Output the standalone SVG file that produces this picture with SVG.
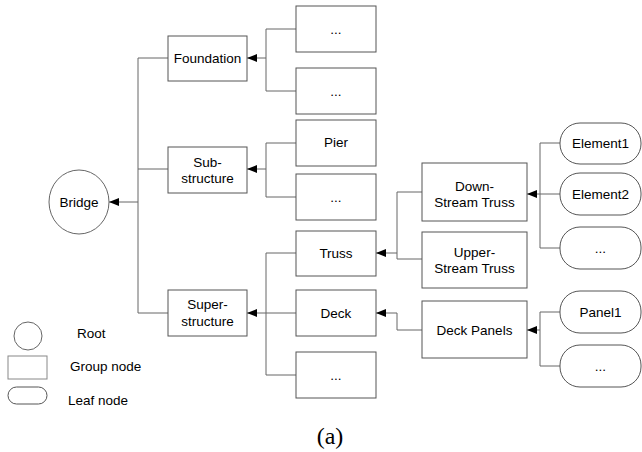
<svg xmlns="http://www.w3.org/2000/svg" width="642" height="452" viewBox="0 0 642 452">
<defs>
<marker id="arr" markerWidth="10" markerHeight="8" refX="10" refY="4" orient="auto" markerUnits="userSpaceOnUse">
<path d="M0,0 L10,4 L0,8 z" fill="#000"/>
</marker>
<style>
.box{fill:#fff;stroke:#555;stroke-width:1}
.leaf{fill:#fff;stroke:#555;stroke-width:1}
.root{fill:#fff;stroke:#666;stroke-width:1}
.ln{fill:none;stroke:#666;stroke-width:1}
.t{font-family:"Liberation Sans",Arial,sans-serif;font-size:13.5px;fill:#000;text-anchor:middle}
.lg{font-family:"Liberation Sans",Arial,sans-serif;font-size:13.5px;fill:#000}
.cap{font-family:"Liberation Serif","Times New Roman",serif;font-size:24px;fill:#000;text-anchor:middle}
</style>
</defs>
<rect width="642" height="452" fill="#fff"/>

<g id="connectors">
<path class="ln" d="M138,58 V313 M138,58 H168 M138,169 H168 M138,313 H168"/>
<line class="ln" x1="138" y1="202" x2="109" y2="202" marker-end="url(#arr)"/>
<path class="ln" d="M266,29 V91 M266,29 H296 M266,91 H296"/>
<line class="ln" x1="266" y1="58" x2="247" y2="58" marker-end="url(#arr)"/>
<path class="ln" d="M266,143 V197 M266,143 H296 M266,197 H296"/>
<line class="ln" x1="266" y1="169" x2="247" y2="169" marker-end="url(#arr)"/>
<path class="ln" d="M266,253 V375 M266,253 H296 M266,375 H296"/>
<line class="ln" x1="296" y1="313" x2="247" y2="313" marker-end="url(#arr)"/>
<path class="ln" d="M397,192 V259 M397,192 H422 M397,259 H422"/>
<line class="ln" x1="397" y1="253" x2="376" y2="253" marker-end="url(#arr)"/>
<polyline class="ln" points="422,330 397,330 397,313 376,313" marker-end="url(#arr)"/>
<path class="ln" d="M540,143 V248 M540,143 H560 M540,248 H560"/>
<line class="ln" x1="560" y1="194" x2="527" y2="194" marker-end="url(#arr)"/>
<path class="ln" d="M540,312 V366 M540,312 H560 M540,366 H560"/>
<line class="ln" x1="540" y1="330" x2="527" y2="330" marker-end="url(#arr)"/>
</g>

<g id="bridge"><ellipse class="root" cx="79" cy="202" rx="30" ry="32"/><text class="t" x="79" y="207">Bridge</text></g>

<g id="foundation"><rect class="box" x="168" y="36" width="79" height="45"/><text class="t" x="207.5" y="63">Foundation</text></g>
<g id="substructure"><rect class="box" x="168" y="147" width="79" height="46"/><text class="t" x="207.5" y="167">Sub-</text><text class="t" x="207.5" y="183">structure</text></g>
<g id="superstructure"><rect class="box" x="168" y="290" width="79" height="46"/><text class="t" x="207.5" y="309">Super-</text><text class="t" x="207.5" y="326">structure</text></g>

<g id="f1"><rect class="box" x="296" y="6" width="80" height="46"/><text class="t" x="336" y="34">...</text></g>
<g id="f2"><rect class="box" x="296" y="68" width="80" height="46"/><text class="t" x="336" y="96">...</text></g>
<g id="pier"><rect class="box" x="296" y="120" width="80" height="46"/><text class="t" x="336" y="147">Pier</text></g>
<g id="s2"><rect class="box" x="296" y="174" width="80" height="46"/><text class="t" x="336" y="202">...</text></g>
<g id="truss"><rect class="box" x="296" y="231" width="80" height="45"/><text class="t" x="336" y="258">Truss</text></g>
<g id="deck"><rect class="box" x="296" y="290" width="80" height="46"/><text class="t" x="336" y="318">Deck</text></g>
<g id="p3"><rect class="box" x="296" y="352" width="80" height="46"/><text class="t" x="336" y="380">...</text></g>

<g id="downstream"><rect class="box" x="422" y="163" width="105" height="58"/><text class="t" x="474.5" y="191">Down-</text><text class="t" x="474.5" y="207">Stream Truss</text></g>
<g id="upperstream"><rect class="box" x="422" y="232" width="105" height="56"/><text class="t" x="474.5" y="257">Upper-</text><text class="t" x="474.5" y="273">Stream Truss</text></g>
<g id="deckpanels"><rect class="box" x="422" y="301" width="105" height="57"/><text class="t" x="474.5" y="335">Deck Panels</text></g>

<g id="element1"><rect class="leaf" x="560" y="123" width="81" height="41" rx="20" ry="20"/><text class="t" x="600.5" y="148">Element1</text></g>
<g id="element2"><rect class="leaf" x="560" y="173" width="81" height="42" rx="20" ry="20"/><text class="t" x="600.5" y="199">Element2</text></g>
<g id="e3"><rect class="leaf" x="560" y="227" width="81" height="42" rx="20" ry="20"/><text class="t" x="600.5" y="253">...</text></g>
<g id="panel1"><rect class="leaf" x="560" y="291" width="81" height="42" rx="20" ry="20"/><text class="t" x="600.5" y="317">Panel1</text></g>
<g id="pn2"><rect class="leaf" x="560" y="345" width="81" height="42" rx="20" ry="20"/><text class="t" x="600.5" y="371">...</text></g>

<g id="legend">
<circle class="root" cx="28" cy="336" r="14"/><text class="lg" x="77" y="338">Root</text>
<rect class="box" x="8" y="356" width="39" height="23" style="stroke:#888"/><text class="lg" x="70" y="371">Group node</text>
<rect class="leaf" x="8" y="387" width="39" height="17" rx="8.5" ry="8.5"/><text class="lg" x="68" y="405">Leaf node</text>
</g>

<text class="cap" x="330" y="444">(a)</text>
</svg>
